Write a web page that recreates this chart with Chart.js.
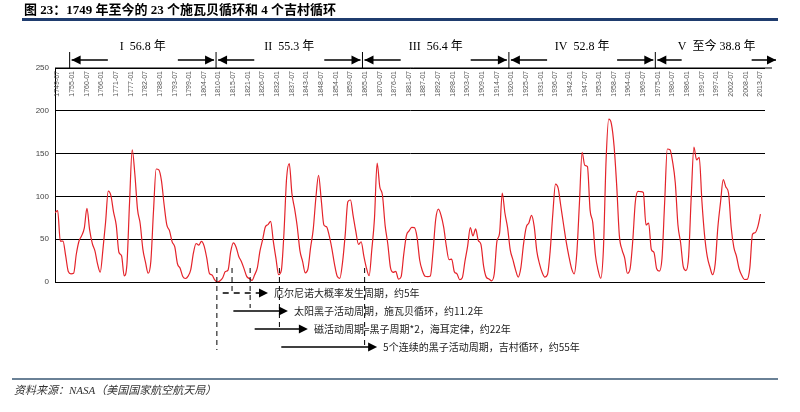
<!DOCTYPE html>
<html>
<head>
<meta charset="utf-8">
<script src="https://cdn.jsdelivr.net/npm/chart.js@4"></script>
<style>
  html, body { margin: 0; padding: 0; background: #fff; }
  #wrap { position: relative; width: 800px; height: 412px; }
  canvas { position: absolute; left: 0; top: 0; }
</style>
</head>
<body>
<div id="wrap"><canvas id="c" width="800" height="412"></canvas></div>
<script>
// annual sunspot numbers, 1749 - 2014
const startYear = 1749;
const sunspots = [
  80.9, 83.4, 47.7, 47.8, 30.7, 12.2, 9.6, 10.2, 32.4, 47.6,
  54.0, 62.9, 85.9, 61.2, 45.1, 36.4, 20.9, 11.4, 37.8, 69.8,
  106.1, 100.8, 81.6, 66.5, 34.8, 30.6, 7.0, 19.8, 92.5, 154.4,
  125.9, 84.8, 68.1, 38.5, 22.8, 10.2, 24.1, 82.9, 132.0, 130.9,
  118.1, 89.9, 66.6, 60.0, 46.9, 41.0, 21.3, 16.0, 6.4, 4.1,
  6.8, 14.5, 34.0, 45.0, 43.1, 47.5, 42.2, 28.1, 10.1, 8.1,
  2.5, 0.0, 1.4, 5.0, 12.2, 13.9, 35.4, 45.8, 41.0, 30.1,
  23.9, 15.6, 6.6, 4.0, 1.8, 8.5, 16.6, 36.3, 49.6, 64.2,
  67.0, 70.9, 47.8, 27.5, 8.5, 13.2, 56.9, 121.5, 138.3, 103.2,
  85.7, 64.6, 36.7, 24.2, 10.7, 15.0, 40.1, 61.5, 98.5, 124.7,
  96.3, 66.6, 64.5, 54.1, 39.0, 20.6, 6.7, 4.3, 22.7, 54.8,
  93.8, 95.8, 77.2, 59.1, 44.0, 47.0, 30.5, 16.3, 7.3, 37.6,
  74.0, 139.0, 111.2, 101.6, 66.2, 44.7, 17.0, 11.3, 12.4, 3.4,
  6.0, 32.3, 54.3, 59.7, 63.7, 63.5, 52.2, 25.4, 13.1, 6.8,
  6.3, 7.1, 35.6, 73.0, 85.1, 78.0, 64.0, 41.8, 26.2, 26.7,
  12.1, 9.5, 2.7, 5.0, 24.4, 42.0, 63.5, 53.8, 62.0, 48.5,
  43.9, 18.6, 5.7, 3.6, 1.4, 9.6, 47.4, 57.1, 103.9, 80.6,
  63.6, 37.6, 26.1, 14.2, 5.8, 16.7, 44.3, 63.9, 69.0, 77.8,
  64.9, 35.7, 21.2, 11.1, 5.7, 8.7, 36.1, 79.7, 114.4, 109.6,
  88.8, 67.8, 47.5, 30.6, 16.3, 9.6, 33.2, 92.6, 151.6, 136.3,
  134.7, 83.9, 69.4, 31.5, 13.9, 4.4, 38.0, 141.7, 190.2, 184.8,
  159.0, 112.3, 53.9, 37.6, 27.9, 10.2, 15.1, 47.0, 93.8, 105.9,
  105.5, 104.5, 66.6, 68.9, 38.0, 34.5, 15.5, 12.6, 27.5, 92.5,
  155.4, 154.6, 140.4, 115.9, 66.6, 45.9, 17.9, 13.4, 29.4, 100.2,
  157.6, 142.6, 145.7, 94.3, 54.6, 29.9, 17.5, 8.6, 21.5, 64.3,
  93.3, 119.6, 111.0, 104.0, 63.7, 40.4, 29.8, 15.2, 7.5, 2.9,
  3.1, 16.5, 55.7, 57.6, 64.7, 79.3
];

const tickLabels = [
  '1749-07','1755-01','1760-07','1766-01','1771-07','1777-01','1782-07','1788-01',
  '1793-07','1799-01','1804-07','1810-01','1815-07','1821-01','1826-07','1832-01',
  '1837-07','1843-01','1848-07','1854-01','1859-07','1865-01','1870-07','1876-01',
  '1881-07','1887-01','1892-07','1898-01','1903-07','1909-01','1914-07','1920-01',
  '1925-07','1931-01','1936-07','1942-01','1947-07','1953-01','1958-07','1964-01',
  '1969-07','1975-01','1980-07','1986-01','1991-07','1997-01','2002-07','2008-01','2013-07'
];

// Gleissberg cycles: boundary years and labels
const cycleBounds = [1755.0, 1810.0, 1865.0, 1920.0, 1975.0];
const cycleLabels = ['I  56.8 年', 'II  55.3 年', 'III  56.4 年', 'IV  52.8 年', 'V  至今 38.8 年'];

// notes below the axis: [start year, end year, dashed, text]
const notes = [
  [1752.5, 1769.5, true, '厄尔尼诺大概率发生周期，约5年'],
  [1756.5, 1777.0, false, '太阳黑子活动周期，施瓦贝循环，约11.2年'],
  [1764.5, 1784.5, false, '磁活动周期=黑子周期*2，海耳定律，约22年'],
  [1774.5, 1810.5, false, '5个连续的黑子活动周期，吉村循环，约55年']
];
// dashed guide lines: [year, bottom offset under axis]
const guides = [[1810.3, 68], [1816.0, 12], [1822.8, 26], [1833.8, 46], [1865.8, 64]];

const yearValue = s => {
  const [y, m] = s.split('-').map(Number);
  return y + (m - 1) / 12;
};

const points = sunspots.map((v, i) => ({ x: startYear + i + 0.5, y: v }));

function arrowHead(ctx, x, y, dir) {
  ctx.beginPath();
  ctx.moveTo(x, y);
  ctx.lineTo(x - dir * 9, y - 4.5);
  ctx.lineTo(x - dir * 9, y + 4.5);
  ctx.closePath();
  ctx.fill();
}

const decor = {
  id: 'decor',
  afterDraw(chart) {
    const ctx = chart.ctx;
    const xs = chart.scales.x;
    const area = chart.chartArea;
    ctx.save();

    // title and frame lines
    ctx.fillStyle = '#000';
    ctx.font = 'bold 13px "Liberation Serif", "Noto Sans CJK SC", serif';
    ctx.textBaseline = 'middle';
    ctx.fillText('图 23：1749 年至今的 23 个施瓦贝循环和 4 个吉村循环', 24, 11);
    ctx.fillStyle = '#1f3c6e';
    ctx.fillRect(22, 18, 756, 3);
    ctx.fillStyle = '#6a8196';
    ctx.fillRect(12, 378, 766, 2);
    ctx.fillStyle = '#333';
    ctx.font = 'italic 11px "Liberation Serif", "Noto Sans CJK SC", serif';
    ctx.fillText('资料来源：NASA（美国国家航空航天局）', 14, 391);

    // x tick labels, rotated inside the plot
    ctx.fillStyle = '#555';
    ctx.font = '7px "Liberation Sans", Arial';
    ctx.textAlign = 'right';
    tickLabels.forEach(t => {
      const px = xs.getPixelForValue(yearValue(t));
      ctx.save();
      ctx.translate(px + 2.5, area.top + 3);
      ctx.rotate(-Math.PI / 2);
      ctx.fillText(t, 0, 0);
      ctx.restore();
    });

    // cycle bands above the plot
    ctx.strokeStyle = '#000';
    ctx.fillStyle = '#000';
    ctx.lineWidth = 1;
    ctx.beginPath();
    ctx.moveTo(area.left, area.top);
    ctx.lineTo(772, area.top);
    ctx.stroke();
    const arrowY = area.top - 8;
    const ends = cycleBounds.concat([2017.5]);
    cycleBounds.forEach((b, i) => {
      const x0 = xs.getPixelForValue(b);
      const x1 = i < 4 ? xs.getPixelForValue(ends[i + 1]) : 778;
      ctx.beginPath();
      ctx.moveTo(x0, area.top);
      ctx.lineTo(x0, area.top - 16);
      ctx.stroke();
      const mid = (x0 + x1) / 2;
      ctx.lineWidth = 1.5;
      ctx.beginPath();
      ctx.moveTo(x0 + 2, arrowY);
      ctx.lineTo(mid - 35, arrowY);
      ctx.moveTo(mid + 35, arrowY);
      ctx.lineTo(x1 - 2, arrowY);
      ctx.stroke();
      ctx.lineWidth = 1;
      arrowHead(ctx, x0 + 2, arrowY, -1);
      arrowHead(ctx, x1 - 2, arrowY, 1);
      ctx.font = '12px "Liberation Serif", "Noto Sans CJK SC", serif';
      ctx.textAlign = 'center';
      ctx.fillText(cycleLabels[i], mid, area.top - 21);
    });

    // dashed guides
    ctx.setLineDash([5, 4]);
    guides.forEach(([yr, off]) => {
      const x = xs.getPixelForValue(yr);
      ctx.beginPath();
      ctx.moveTo(x, area.bottom - 14);
      ctx.lineTo(x, area.bottom + off);
      ctx.stroke();
    });

    // notes with arrows
    ctx.textAlign = 'left';
    ctx.font = '10px "Noto Sans CJK SC", sans-serif';
    notes.forEach(([a, b, dashed, text], i) => {
      const y = area.bottom + 11 + i * 18;
      const x0 = xs.getPixelForValue(a + 60);
      const x1 = xs.getPixelForValue(b + 60);
      ctx.setLineDash(dashed ? [6, 5] : []);
      ctx.lineWidth = 1.5;
      ctx.beginPath();
      ctx.moveTo(x0, y);
      ctx.lineTo(x1 - 6, y);
      ctx.stroke();
      ctx.setLineDash([]);
      arrowHead(ctx, x1, y, 1);
      ctx.fillStyle = '#222';
      ctx.fillText(text, x1 + 6, y);
      ctx.fillStyle = '#000';
    });
    ctx.restore();
  }
};

new Chart(document.getElementById('c'), {
  type: 'line',
  data: {
    datasets: [{
      data: points,
      borderColor: '#e4232a',
      borderWidth: 1.2,
      pointRadius: 0,
      cubicInterpolationMode: 'monotone',
      fill: false
    }]
  },
  options: {
    responsive: false,
    animation: false,
    layout: { padding: { top: 68, bottom: 130, left: 0, right: 35 } },
    plugins: { legend: { display: false }, tooltip: { enabled: false } },
    scales: {
      x: {
        type: 'linear',
        min: 1749.5,
        max: 2016.2,
        display: false
      },
      y: {
        min: 0,
        max: 250,
        afterFit: s => { s.width = 55; },
        ticks: {
          stepSize: 50,
          color: '#444',
          font: { size: 8, family: '"Liberation Sans", Arial' },
          padding: 6
        },
        grid: { color: '#000', drawTicks: false, lineWidth: 1 },
        border: { color: '#000' }
      }
    }
  },
  plugins: [decor]
});
</script>
</body>
</html>
